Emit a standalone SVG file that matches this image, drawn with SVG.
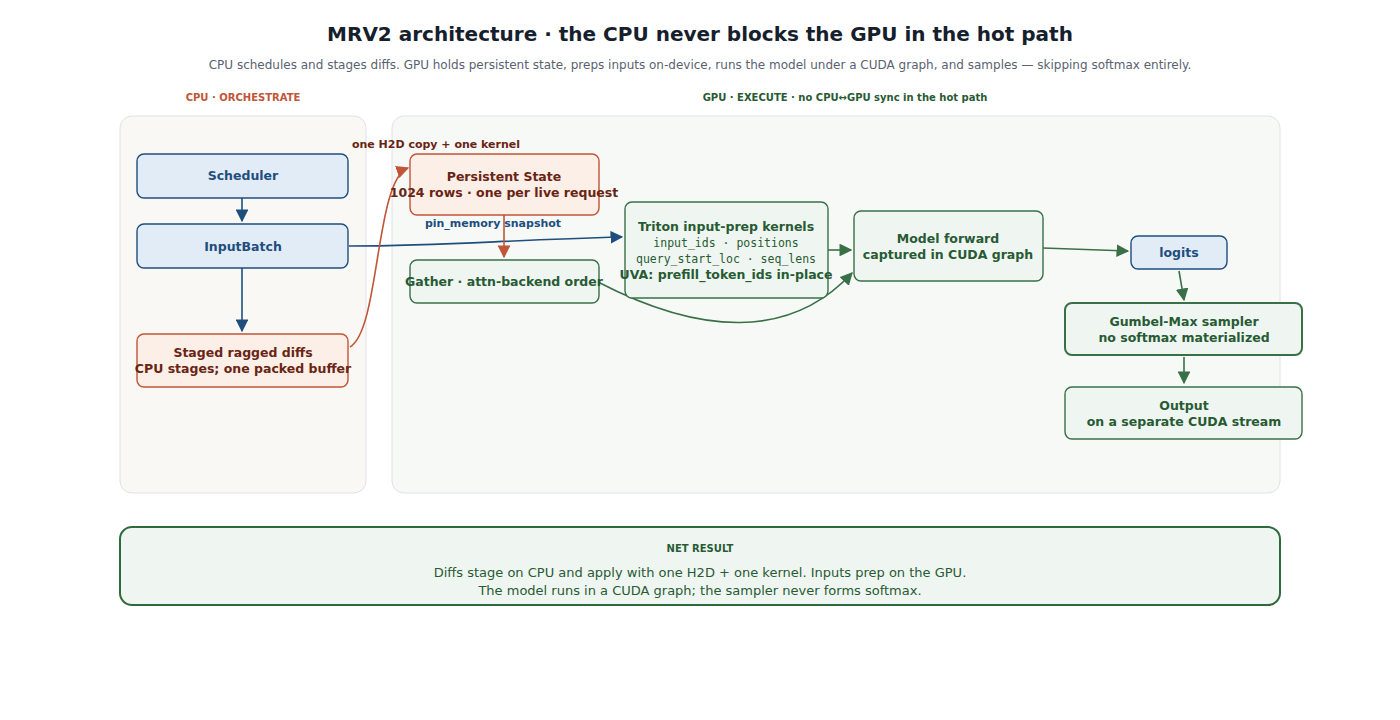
<svg xmlns="http://www.w3.org/2000/svg" width="1400" height="720" viewBox="0 0 1400 720">
<defs>
<style>
text{font-family:"DejaVu Sans",sans-serif;text-anchor:middle}
.b{font-weight:bold;font-size:12.5px}
.blue rect{fill:#e2ecf6;stroke:#1e4e7e;stroke-width:1.4}
.blue text{fill:#1e4e7e}
.red rect{fill:#fcefe7;stroke:#c05538;stroke-width:1.4}
.red text{fill:#6a2414}
.grn rect{fill:#eff6f1;stroke:#3a7048;stroke-width:1.4}
.grn text{fill:#285a34}
.mono{font-family:"DejaVu Sans Mono",monospace;font-size:11.5px;font-weight:normal}
</style>
<marker id="ab" viewBox="0 0 10 10" refX="9" refY="5" markerWidth="8" markerHeight="8" orient="auto"><path d="M0,0L10,5L0,10z" fill="#1e4e7e"/></marker>
<marker id="ar" viewBox="0 0 10 10" refX="9" refY="5" markerWidth="8" markerHeight="8" orient="auto"><path d="M0,0L10,5L0,10z" fill="#c05538"/></marker>
<marker id="ag" viewBox="0 0 10 10" refX="9" refY="5" markerWidth="8" markerHeight="8" orient="auto"><path d="M0,0L10,5L0,10z" fill="#3a7048"/></marker>
</defs>
<rect width="1400" height="720" fill="#fff"/>
<text x="700" y="41" style="font-size:20px;font-weight:bold" fill="#16202c">MRV2 architecture · the CPU never blocks the GPU in the hot path</text>
<text x="700" y="69" style="font-size:12px" fill="#5a6270">CPU schedules and stages diffs. GPU holds persistent state, preps inputs on-device, runs the model under a CUDA graph, and samples — skipping softmax entirely.</text>
<rect x="120" y="116" width="246" height="377" rx="12" fill="#faf8f4" stroke="#e0e2e8"/>
<rect x="392" y="116" width="888" height="377" rx="12" fill="#f7f9f7" stroke="#e0e2e8"/>
<text x="243" y="101" style="font-size:10px;font-weight:bold" fill="#c05538">CPU · ORCHESTRATE</text>
<text x="845" y="101" style="font-size:10px;font-weight:bold" fill="#285a34">GPU · EXECUTE · no CPU↔GPU sync in the hot path</text>
<g id="connectors" fill="none" stroke-width="1.6">
<path d="M242,198V221" stroke="#1e4e7e" marker-end="url(#ab)"/>
<path d="M242,268V331" stroke="#1e4e7e" marker-end="url(#ab)"/>
<path d="M349,246C450,246 500,240 622,237" stroke="#1e4e7e" marker-end="url(#ab)"/>
<path d="M350,347C380,330 375,180 408,168" stroke="#c05538" marker-end="url(#ar)"/>
<path d="M504,215V257" stroke="#c05538" marker-end="url(#ar)"/>
<path d="M828,250H851" stroke="#3a7048" marker-end="url(#ag)"/>
<path d="M598,282C700,335 790,340 852,273" stroke="#3a7048" marker-end="url(#ag)"/>
<path d="M1043,248L1128,251" stroke="#3a7048" marker-end="url(#ag)"/>
<path d="M1179,271L1184,300" stroke="#3a7048" marker-end="url(#ag)"/>
<path d="M1184,357V383" stroke="#3a7048" marker-end="url(#ag)"/>
</g>
<text x="436" y="148" style="font-size:11px;font-weight:bold" fill="#6a2414">one H2D copy + one kernel</text>
<text x="493" y="227" style="font-size:11px;font-weight:bold" fill="#1e4e7e">pin_memory snapshot</text>
<g id="scheduler" class="blue"><rect x="137" y="154" width="211" height="44" rx="7"/><text class="b" x="243" y="180">Scheduler</text></g>
<g id="inputbatch" class="blue"><rect x="137" y="224" width="211" height="44" rx="7"/><text class="b" x="243" y="251">InputBatch</text></g>
<g id="staged" class="red"><rect x="137" y="334" width="211" height="53" rx="7"/><text class="b" x="243" y="357">Staged ragged diffs</text><text class="b" x="243" y="373">CPU stages; one packed buffer</text></g>
<g id="persistent" class="red"><rect x="410" y="154" width="189" height="61" rx="7"/><text class="b" x="504" y="181">Persistent State</text><text class="b" x="504" y="197">1024 rows · one per live request</text></g>
<g id="gather" class="grn"><rect x="410" y="260" width="189" height="43" rx="7"/><text class="b" x="504" y="286">Gather · attn-backend order</text></g>
<g id="triton" class="grn"><rect x="625" y="202" width="203" height="96" rx="7"/><text class="b" x="726" y="231">Triton input-prep kernels</text><text class="mono" x="726" y="247">input_ids · positions</text><text class="mono" x="726" y="263">query_start_loc · seq_lens</text><text class="b" x="726" y="279">UVA: prefill_token_ids in-place</text></g>
<g id="model" class="grn"><rect x="854" y="211" width="189" height="70" rx="7"/><text class="b" x="948" y="243">Model forward</text><text class="b" x="948" y="259">captured in CUDA graph</text></g>
<g id="logits" class="blue"><rect x="1131" y="236" width="96" height="33" rx="7"/><text class="b" x="1179" y="257">logits</text></g>
<g id="sampler" class="grn"><rect x="1065" y="303" width="237" height="52" rx="7" style="stroke-width:2"/><text class="b" x="1184" y="326">Gumbel-Max sampler</text><text class="b" x="1184" y="342">no softmax materialized</text></g>
<g id="output" class="grn"><rect x="1065" y="387" width="237" height="52" rx="7"/><text class="b" x="1184" y="410">Output</text><text class="b" x="1184" y="426">on a separate CUDA stream</text></g>
<g id="net"><rect x="120" y="527" width="1160" height="78" rx="12" fill="#eff6f1" stroke="#2f6a3c" stroke-width="2"/>
<text x="700" y="552" style="font-size:10px;font-weight:bold" fill="#285a34">NET RESULT</text>
<text x="700" y="577" style="font-size:13px" fill="#285a34">Diffs stage on CPU and apply with one H2D + one kernel. Inputs prep on the GPU.</text>
<text x="700" y="595" style="font-size:13px" fill="#285a34">The model runs in a CUDA graph; the sampler never forms softmax.</text></g>
</svg>
